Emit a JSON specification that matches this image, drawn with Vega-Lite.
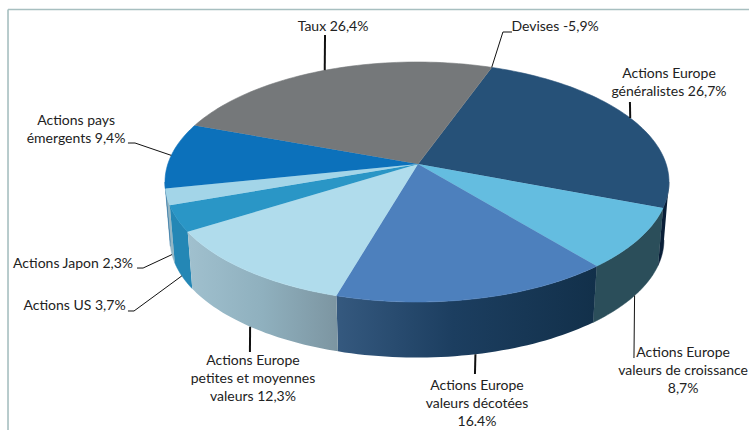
{
"$schema":"https://vega.github.io/schema/vega-lite/v6.json",
"width":749,"height":430,"padding":0,"autosize":{"type":"none"},
"background":"white",
"config":{"view":{"stroke":null}},
"data":{"values":[
{"order":1,"slice":"Actions Europe généralistes","value":26.7,"label":"Actions Europe\ngénéralistes 26,7%"},
{"order":2,"slice":"Actions Europe valeurs de croissance","value":8.7,"label":"Actions Europe\nvaleurs de croissance\n8,7%"},
{"order":3,"slice":"Actions Europe valeurs décotées","value":16.4,"label":"Actions Europe\nvaleurs décotées\n16.4%"},
{"order":4,"slice":"Actions Europe petites et moyennes valeurs","value":12.3,"label":"Actions Europe\npetites et moyennes\nvaleurs 12,3%"},
{"order":5,"slice":"Actions US","value":3.7,"label":"Actions US 3,7%"},
{"order":6,"slice":"Actions Japon","value":2.3,"label":"Actions Japon 2,3%"},
{"order":7,"slice":"Actions pays émergents","value":9.4,"label":"Actions pays\némergents 9,4%"},
{"order":8,"slice":"Taux","value":26.4,"label":"Taux 26,4%"},
{"order":9,"slice":"Devises","value":-5.9,"label":"Devises -5,9%"}
]},
"transform":[
{"calculate":"max(datum.value,0)","as":"w"},
{"joinaggregate":[{"op":"sum","field":"w","as":"tot"}]},
{"window":[{"op":"sum","field":"w","as":"cum"}],"sort":[{"field":"order","order":"ascending"}]},
{"calculate":"20+datum.cum/datum.tot*360","as":"pe"},
{"calculate":"datum.pe-datum.w/datum.tot*360","as":"ps"},
{"calculate":"(datum.ps+datum.pe)/2","as":"pm"}
],
"encoding":{
"x":{"field":"x","type":"quantitative","axis":null,"scale":{"domain":[-1.6548,1.3175],"nice":false,"zero":false}},
"y":{"field":"y","type":"quantitative","axis":null,"scale":{"domain":[-2.0667,1.5167],"nice":false,"zero":false}}
},
"resolve":{"scale":{"fill":"independent","stroke":"independent"}},
"layer":[
{"transform":[{"filter":"datum.order==1"},{"calculate":"-1.623","as":"x"},{"calculate":"-2.0667","as":"y"},{"calculate":"1.4375","as":"y2"}],"mark":{"type":"rule","color":"#a7bfc0","strokeWidth":1.6},"encoding":{"y2":{"field":"y2"}}},
{"transform":[{"filter":"datum.order==1"},{"calculate":"-1.623","as":"x"},{"calculate":"1.3175","as":"x2"},{"calculate":"1.4375","as":"y"}],"mark":{"type":"rule","color":"#a7bfc0","strokeWidth":1.6},"encoding":{"x2":{"field":"x2"}}},

{"transform":[
{"calculate":"max(datum.ps,98.6)","as":"ws"},{"calculate":"min(datum.pe,261.4)","as":"we"},{"filter":"datum.we>datum.ws && datum.order!=3 && datum.order!=4"},
{"calculate":"sequence(0,82)","as":"pts"},{"flatten":["pts"],"as":["i"]},
{"calculate":"2*atan(0.86*tan((datum.i<=40?datum.ws+(datum.we-datum.ws)*datum.i/40:datum.we-(datum.we-datum.ws)*(datum.i-41)/40)*PI/360))","as":"t"},
{"calculate":"(datum.i<=40?1:0.98)*sin(datum.t)","as":"x"},
{"calculate":"(datum.i<=40?0:-0.483)+(datum.i<=40?1:0.98)*cos(datum.t)","as":"y"}
],
"mark":{"type":"line","strokeWidth":0.5,"interpolate":"linear"},
"encoding":{"order":{"field":"i","type":"quantitative"},"detail":{"field":"slice"},
"fill":{"field":"slice","type":"nominal","legend":null,"scale":{"domain":["Actions Europe généralistes","Actions Europe valeurs de croissance","Actions US","Actions Japon","Actions pays émergents"],"range":["#0a1f38","#2b4e5a","#2487b5","#94b6c4","#0b5f9a"]}},
"stroke":{"field":"slice","type":"nominal","legend":null,"scale":{"domain":["Actions Europe généralistes","Actions Europe valeurs de croissance","Actions US","Actions Japon","Actions pays émergents"],"range":["#0a1f38","#2b4e5a","#2487b5","#94b6c4","#0b5f9a"]}}}},

{"transform":[
{"filter":"datum.order==3"},
{"calculate":"sequence(0,82)","as":"pts"},{"flatten":["pts"],"as":["i"]},
{"calculate":"2*atan(0.86*tan((datum.i<=40?datum.ps+(datum.pe-datum.ps)*datum.i/40:datum.pe-(datum.pe-datum.ps)*(datum.i-41)/40)*PI/360))","as":"t"},
{"calculate":"(datum.i<=40?1:0.98)*sin(datum.t)","as":"x"},
{"calculate":"(datum.i<=40?0:-0.483)+(datum.i<=40?1:0.98)*cos(datum.t)","as":"y"}
],
"mark":{"type":"line","strokeWidth":0,"fill":{"gradient":"linear","x1":0,"x2":1,"y1":0,"y2":0,"stops":[{"offset":0,"color":"#35597f"},{"offset":0.45,"color":"#1c3e60"},{"offset":1,"color":"#12304a"}]}},
"encoding":{"order":{"field":"i","type":"quantitative"}}},

{"transform":[
{"filter":"datum.order==4"},
{"calculate":"sequence(0,82)","as":"pts"},{"flatten":["pts"],"as":["i"]},
{"calculate":"2*atan(0.86*tan((datum.i<=40?datum.ps+(datum.pe-datum.ps)*datum.i/40:datum.pe-(datum.pe-datum.ps)*(datum.i-41)/40)*PI/360))","as":"t"},
{"calculate":"(datum.i<=40?1:0.98)*sin(datum.t)","as":"x"},
{"calculate":"(datum.i<=40?0:-0.483)+(datum.i<=40?1:0.98)*cos(datum.t)","as":"y"}
],
"mark":{"type":"line","strokeWidth":0,"fill":{"gradient":"linear","x1":0,"x2":1,"y1":0,"y2":0,"stops":[{"offset":0,"color":"#a0c0ce"},{"offset":0.5,"color":"#8fb0be"},{"offset":1,"color":"#7c95a1"}]}},
"encoding":{"order":{"field":"i","type":"quantitative"}}},

{"transform":[
{"filter":"datum.w>0"},
{"calculate":"sequence(0,62)","as":"pts"},{"flatten":["pts"],"as":["i"]},
{"calculate":"2*atan(0.86*tan((datum.ps+(datum.pe-datum.ps)*datum.i/60)*PI/360))","as":"t"},
{"calculate":"datum.i<=60?sin(datum.t):0.004","as":"x"},
{"calculate":"datum.i<=60?cos(datum.t):0.15","as":"y"}
],
"mark":{"type":"line","strokeWidth":0.6},
"encoding":{"order":{"field":"i","type":"quantitative"},"detail":{"field":"slice"},
"fill":{"field":"slice","type":"nominal","legend":null,"scale":{"domain":["Actions Europe généralistes","Actions Europe valeurs de croissance","Actions Europe valeurs décotées","Actions Europe petites et moyennes valeurs","Actions US","Actions Japon","Actions pays émergents","Taux"],"range":["#265178","#64bde0","#4d80bd","#b0dcec","#2a96c6","#a3d5e8","#0c71bb","#75787a"]}},
"stroke":{"field":"slice","type":"nominal","legend":null,"scale":{"domain":["Actions Europe généralistes","Actions Europe valeurs de croissance","Actions Europe valeurs décotées","Actions Europe petites et moyennes valeurs","Actions US","Actions Japon","Actions pays émergents","Taux"],"range":["#265178","#64bde0","#4d80bd","#b0dcec","#2a96c6","#a3d5e8","#0c71bb","#75787a"]}}}},

{"transform":[
{"calculate":"2*atan(0.86*tan(datum.pm*PI/360))","as":"tm"},
{"calculate":"datum.pm>98.6&&datum.pm<261.4","as":"front"},
{"calculate":"{1:[[0.845,0.667],[0.845,0.667]],2:[[0.861,-1.467],[0.861,-1.467]],3:[[0.230,-1.6],[0.230,-1.6]],4:[[-0.663,-1.417],[-0.663,-1.417]],5:[[-1.123,-1.075],[-1.147,-1.075]],6:[[-1.087,-0.717],[-1.111,-0.717]],7:[[-1.119,0.325],[-1.147,0.325]],8:[[-0.365,1.225],[-0.365,1.225]],9:[[0.341,1.25],[0.377,1.25]]}[datum.order]","as":"pl"},
{"calculate":"sequence(0,3)","as":"pts"},{"flatten":["pts"],"as":["i"]},
{"calculate":"datum.i==0?(datum.front?0.98:1)*sin(datum.tm):datum.pl[datum.i-1][0]","as":"x"},
{"calculate":"datum.i==0?(datum.front?-0.483+0.98*cos(datum.tm):cos(datum.tm)):datum.pl[datum.i-1][1]","as":"y"}
],
"mark":{"type":"line","color":"#111111"},
"encoding":{"order":{"field":"i","type":"quantitative"},"detail":{"field":"slice"},
"strokeWidth":{"condition":{"test":"datum.order==1||datum.order==3||datum.order==4||datum.order==8","value":2},"value":1}}},

{"transform":[
{"calculate":"{1:[1.0,0.9],2:[1.056,-1.425],3:[0.238,-1.7],4:[-0.651,-1.492],5:[-1.359,-1.033],6:[-1.365,-0.683],7:[-1.353,0.508],8:[-0.333,1.292],9:[0.548,1.292]}[datum.order]","as":"lp"},
{"calculate":"datum.lp[0]","as":"x"},{"calculate":"datum.lp[1]","as":"y"}
],
"mark":{"type":"text","font":"Lato","fontSize":14,"color":"#222222","align":"center","baseline":"middle","lineBreak":"\n","lineHeight":18.2},
"encoding":{"text":{"field":"label","type":"nominal"}}}
]
}
